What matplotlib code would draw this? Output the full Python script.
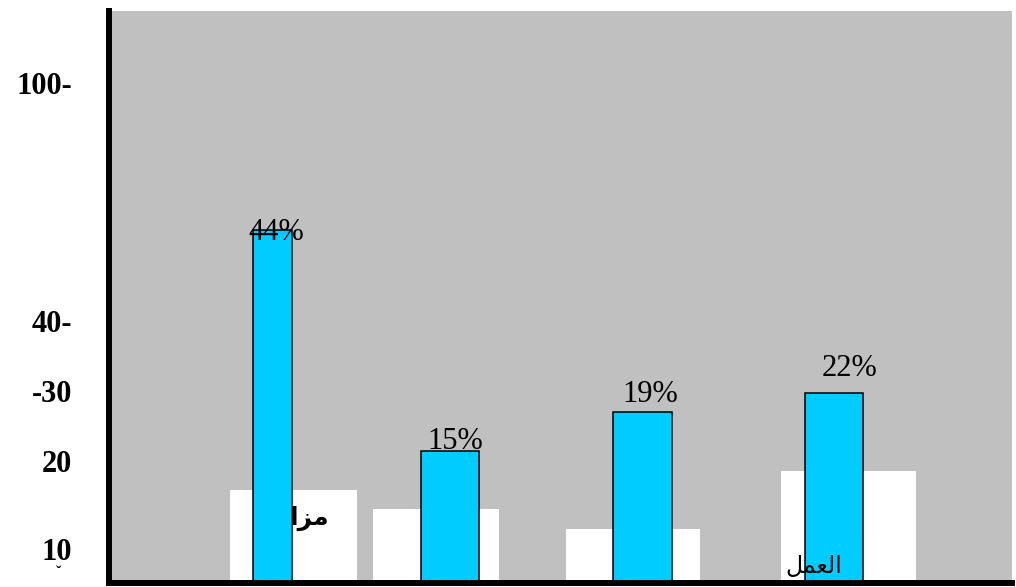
import matplotlib
matplotlib.use("Agg")
import matplotlib.pyplot as plt

# ---- data (axis units) ----
bar_labels = ["44%", "15%", "19%", "22%"]
bar_values = [41.5, 15.5, 20.1, 22.4]
box_values = [10.9, 8.7, 6.4, 13.2]
ytick_values = [58.8, 30.8, 22.6, 14.4, 4.0]
ytick_labels = ["100-", "40-", "-30", "20", "10"]
arabic_texts = ["\uFE8D\uFEB0\uFEE3", "\uFEDE\uFEE4\uFECC\uFEDF\uFE8D"]  # "مزا", "العمل" (visual order)

# ---- layout (positions / sizes, not data) ----
bar_centers = [163.5, 341, 533.5, 725]
bar_widths = [39, 58, 59, 58]
box_lefts = [121, 264, 457, 672]
box_widths = [127, 126, 134, 135]
label_xy = [(167, 40.35), (346.5, 15.76), (541, 21.3), (740.5, 24.35)]

W, H = 1016, 587
fig = plt.figure(figsize=(W / 100, H / 100), dpi=100)
ax_left, ax_right, ax_top, ax_bottom = 109, 1012, 11, 583
ax = fig.add_axes([ax_left / W, (H - ax_bottom) / H,
                   (ax_right - ax_left) / W, (ax_bottom - ax_top) / H])
ax.set_facecolor("#C0C0C0")
ax.set_xlim(0, ax_right - ax_left)
ax.set_ylim(0, (ax_bottom - ax_top) / 8.5)

# white boxes behind
ax.bar(box_lefts, box_values, width=box_widths, align="edge",
       color="white", edgecolor="none", zorder=1)

# arabic text partly hidden by the first bar
ax.text(221, 7.65, arabic_texts[0], family=["DejaVu Sans"], fontweight="bold",
        fontsize=18, ha="right", va="center", zorder=2)

# blue bars
ax.bar(bar_centers, bar_values, width=bar_widths, color="#00CCFF",
       edgecolor="black", linewidth=1.1, zorder=3)

for (x, y), lab in zip(label_xy, bar_labels):
    ax.text(x, y, lab, family=["Liberation Serif"], fontsize=22,
            ha="center", va="baseline", zorder=4)

ax.text(676, 2.0, arabic_texts[1], family=["DejaVu Sans"], fontsize=17,
        ha="left", va="center", zorder=5)

# axes styling
for s in ["top", "right"]:
    ax.spines[s].set_visible(False)
for s in ["left", "bottom"]:
    ax.spines[s].set_linewidth(4.3)
    ax.spines[s].set_color("black")
    ax.spines[s].set_zorder(6)
ax.set_xticks([])
ax.set_yticks(ytick_values)
ax.set_yticklabels(ytick_labels, family=["Liberation Serif"],
                   fontweight="bold", fontsize=22)
ax.tick_params(axis="y", length=0, pad=26.7)

# small stray mark below "10"
fig.text(59 / W, 1 - 577 / H, "\u02C7", family=["Liberation Serif"],
         fontweight="bold", fontsize=12, ha="center", va="baseline")

fig.savefig("out.png", dpi=100)
